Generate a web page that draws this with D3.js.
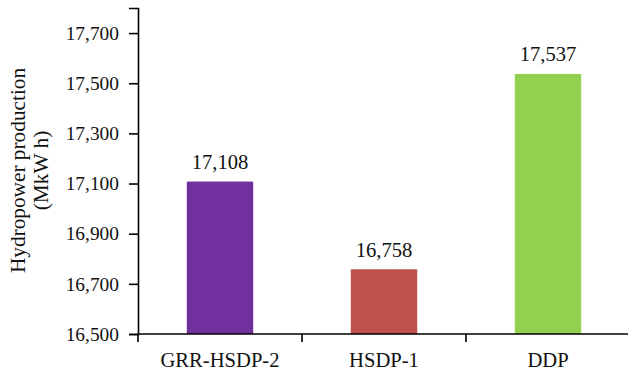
<!DOCTYPE html>
<html><head><meta charset="utf-8">
<script src="https://cdn.jsdelivr.net/npm/d3@7"></script>
<style>body{margin:0;background:#fff}svg{display:block}</style>
</head><body>
<script>
const categories = ["GRR-HSDP-2", "HSDP-1", "DDP"];
const values = [17108, 16758, 17537];
const valueLabels = ["17,108", "16,758", "17,537"];
const colors = ["#70309e", "#c0504d", "#92d050"];
const yTicks = [16500, 16700, 16900, 17100, 17300, 17500, 17700];
const yTitle = ["Hydropower production", "(MkW h)"];

const FONT = '"Liberation Serif"';
const W = 628, H = 372;
const m = {left: 138, right: -2, top: 8, bottom: 38};
const svg = d3.select("body").append("svg").attr("width", W).attr("height", H)
  .style("font-family", FONT);

const x = d3.scaleBand().domain(categories).range([m.left, W - m.right]);
const y = d3.scaleLinear().domain([16500, 17800]).range([H - m.bottom, m.top]);

const g = svg.append("g");
const bw = x.bandwidth() * 0.405;
g.selectAll("rect.bar").data(categories).join("rect")
  .attr("x", d => x(d) + x.bandwidth() / 2 - bw / 2)
  .attr("y", (d, i) => y(values[i]))
  .attr("width", bw)
  .attr("height", (d, i) => y(16500) - y(values[i]))
  .attr("fill", (d, i) => colors[i]);

g.selectAll("text.val").data(categories).join("text")
  .attr("x", d => x(d) + x.bandwidth() / 2)
  .attr("y", (d, i) => y(values[i]) - 12.5)
  .attr("text-anchor", "middle")
  .style("font-family", FONT).style("font-size", "20.6px").attr("fill", "#111")
  .text((d, i) => valueLabels[i]);

// y axis
const ya = svg.append("g").attr("transform", `translate(${m.left},0)`)
  .call(d3.axisLeft(y).tickValues(yTicks).tickFormat(d3.format(",")).tickSizeOuter(0).tickSize(9).tickPadding(10));
ya.attr("font-family", null);
ya.select(".domain").attr("stroke", "#000").attr("stroke-width", 1.6);
ya.selectAll(".tick line").attr("stroke", "#000").attr("stroke-width", 1.6);
ya.selectAll(".tick text").style("font-size", "19.4px").attr("fill", "#111").style("font-family", FONT);

// x axis with ticks at band boundaries
const xa = svg.append("g").attr("transform", `translate(0,${H - m.bottom})`);
xa.append("line").attr("x1", m.left).attr("x2", W).attr("stroke", "#000").attr("stroke-width", 1.6);
const bounds = categories.map(c => x(c)).concat([x.range()[1]]);
xa.selectAll("line.tk").data(bounds).join("line").attr("class", "tk")
  .attr("x1", d => d).attr("x2", d => d).attr("y1", 0).attr("y2", 8)
  .attr("stroke", "#000").attr("stroke-width", 1.6);
xa.selectAll("text.cat").data(categories).join("text")
  .attr("x", d => x(d) + x.bandwidth() / 2).attr("y", 33)
  .attr("text-anchor", "middle").style("font-size", "20.6px").style("font-family", FONT).attr("fill", "#111")
  .text(d => d);

// y title
const t = svg.append("text").attr("transform", `translate(25,170.5) rotate(-90)`)
  .attr("text-anchor", "middle").style("font-size", "21.3px").style("font-family", FONT).attr("fill", "#111");
t.selectAll("tspan").data(yTitle).join("tspan")
  .attr("x", 0).attr("dy", (d, i) => i === 0 ? 0 : 23).text(d => d);
</script>
</body></html>
